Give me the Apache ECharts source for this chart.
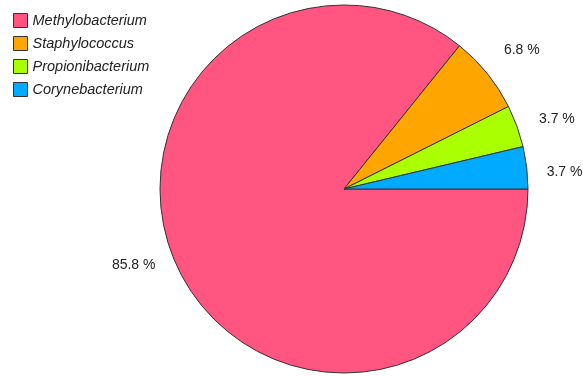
<!DOCTYPE html>
<html>
<head>
<meta charset="utf-8">
<script src="https://cdn.jsdelivr.net/npm/echarts@6/dist/echarts.min.js"></script>
<style>
  html, body { margin: 0; padding: 0; background: #fff; }
  #chart { width: 583px; height: 376px; }
</style>
</head>
<body>
<div id="chart"></div>
<script>
const genera = ['Methylobacterium', 'Staphylococcus', 'Propionibacterium', 'Corynebacterium']
const shares = [85.8, 6.8, 3.7, 3.7]
const colors = ['#ff5580', '#ffa500', '#aaff00', '#00aaff']

// small label nudges so they sit like the original (dx, dy in px)
const labelNudge = [[-4, -10], [0, -14], [3, -2], [0, 6]]

const chart = echarts.init(document.getElementById('chart'))

const option = {
  animation: false,
  color: colors,
  legend: {
    orient: 'vertical',
    left: 8,
    top: 8,
    icon: 'rect',
    itemWidth: 14,
    itemHeight: 14,
    itemGap: 8,
    itemStyle: { borderColor: '#333', borderWidth: 1 },
    textStyle: {
      fontFamily: 'Liberation Sans',
      fontStyle: 'italic',
      fontSize: 14.5,
      color: '#222'
    },
    data: genera
  },
  series: [
    {
      type: 'pie',
      center: [344, 189],
      radius: 184,
      startAngle: 0,
      clockwise: true,
      avoidLabelOverlap: false,
      itemStyle: { borderColor: '#333', borderWidth: 1 },
      label: {
        show: true,
        position: 'outside',
        formatter: (p) => p.value.toFixed(1) + ' %',
        fontFamily: 'Liberation Sans',
        fontSize: 14,
        color: '#222'
      },
      labelLine: { show: false, length: 15, length2: 0 },
      labelLayout: (params) => ({
        dx: labelNudge[params.dataIndex][0],
        dy: labelNudge[params.dataIndex][1]
      }),
      emphasis: { disabled: true },
      data: genera.map((name, i) => ({ name, value: shares[i] }))
    }
  ]
}

chart.setOption(option)
</script>
</body>
</html>
